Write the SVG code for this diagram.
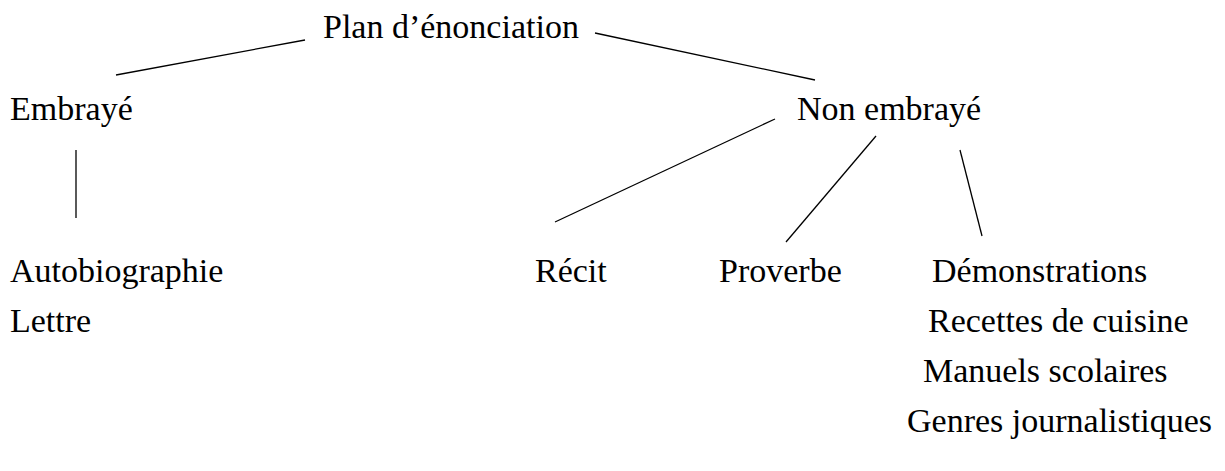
<svg xmlns="http://www.w3.org/2000/svg" width="1225" height="471" viewBox="0 0 1225 471">
<style>
text{font-family:"Liberation Serif","Times New Roman",serif;font-size:34px;fill:#000}
line{stroke:#000;stroke-width:1.3}
</style>
<rect width="1225" height="471" fill="#fff"/>
<g id="connectors">
<line x1="305" y1="40" x2="116" y2="75"/>
<line x1="595" y1="33" x2="815" y2="80"/>
<line x1="76" y1="150" x2="76" y2="218"/>
<line x1="775" y1="119" x2="555" y2="222"/>
<line x1="876" y1="136" x2="786" y2="242"/>
<line x1="960" y1="150" x2="982" y2="236"/>
</g>
<g id="n-plan"><text x="323" y="38">Plan d’énonciation</text></g>
<g id="n-embraye"><text x="10" y="120">Embrayé</text></g>
<g id="n-nonembraye"><text x="797" y="120">Non embrayé</text></g>
<g id="n-autobio"><text x="10" y="282">Autobiographie</text></g>
<g id="n-lettre"><text x="10" y="332">Lettre</text></g>
<g id="n-recit"><text x="535" y="282">Récit</text></g>
<g id="n-proverbe"><text x="719" y="282">Proverbe</text></g>
<g id="n-demo"><text x="932" y="282">Démonstrations</text></g>
<g id="n-recettes"><text x="928" y="332">Recettes de cuisine</text></g>
<g id="n-manuels"><text x="923" y="382">Manuels scolaires</text></g>
<g id="n-genres"><text x="907" y="432">Genres journalistiques</text></g>
</svg>
